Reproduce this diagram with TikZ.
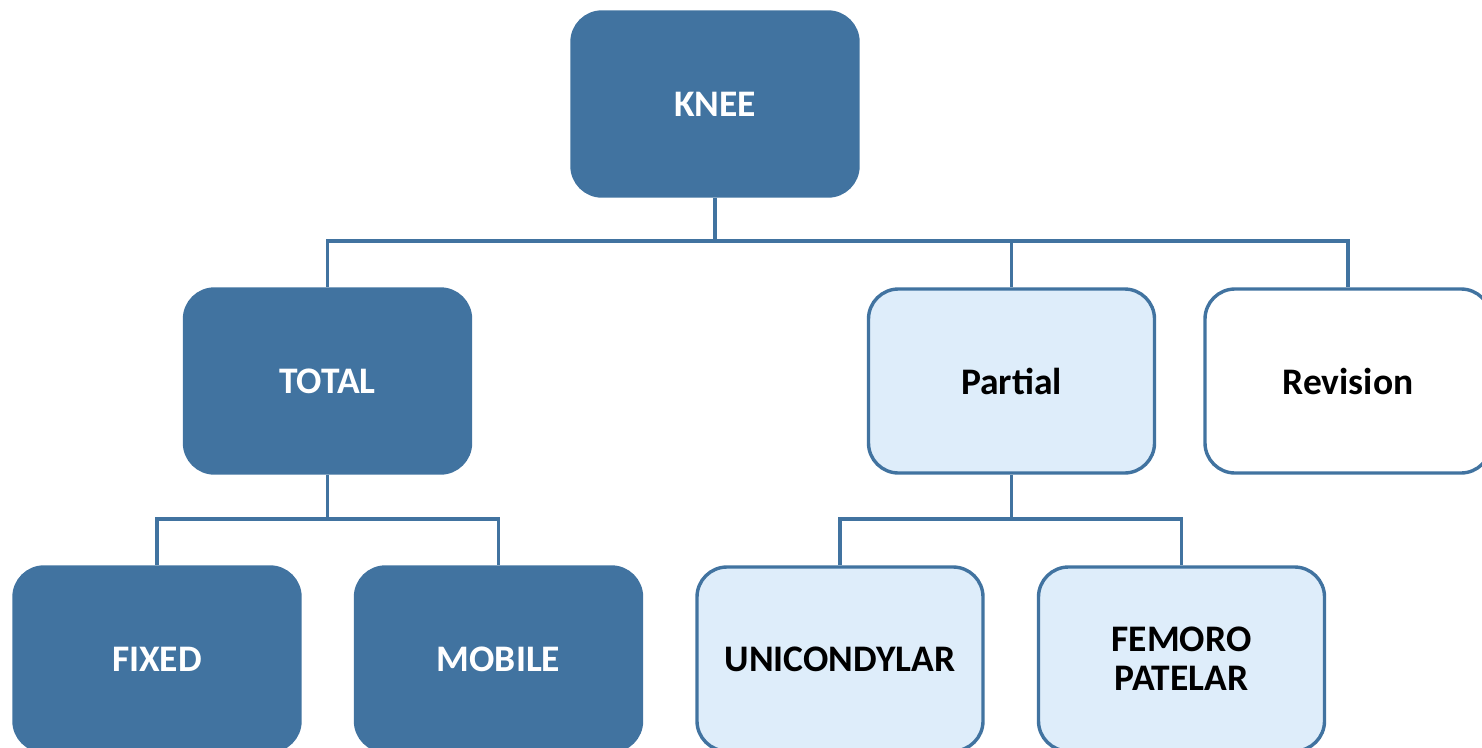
\documentclass[tikz,border=0pt]{standalone}
\usepackage{fontspec}
\setmainfont{Carlito}
\begin{document}
\begin{tikzpicture}[x=1pt,y=-1pt,
  box/.style={rounded corners=30pt, minimum width=286pt, minimum height=184pt,
    inner sep=0pt, line width=3.4pt, align=center,
    font=\fontsize{37.5}{39}\selectfont\bfseries},
  darkbox/.style={box, fill=nodeblue, draw=nodeblue, text=white},
  lightbox/.style={box, fill=paleblue, draw=nodeblue, text=black},
  whitebox/.style={box, fill=white, draw=nodeblue, text=black},
  link/.style={draw=nodeblue, line width=3.6pt}]
\definecolor{nodeblue}{RGB}{65,115,160}
\definecolor{paleblue}{RGB}{222,237,250}
\useasboundingbox (0,0) rectangle (1482,747);
\begin{scope}
\clip (0,0) rectangle (1482,747);
% root
\node[darkbox] (knee) at (715,104) {KNEE};
% second level
\node[darkbox] (total) at (327.5,381) {TOTAL};
\node[lightbox] (partial) at (1011.5,381) {Partial};
\node[whitebox] (revision) at (1348,381) {Revision};
% third level
\node[darkbox] (fixed) at (157,659) {FIXED};
\node[darkbox] (mobile) at (498.5,659) {MOBILE};
\node[lightbox] (uni) at (840,659) {UNICONDYLAR};
\node[lightbox] (femoro) at (1181.5,659) {FEMORO\\PATELAR};
% bus lines
\coordinate (bus1) at (715,241);
\coordinate (bus2) at (327.5,519);
\coordinate (bus3) at (1011.5,519);
\draw[link] (knee.south) -- (bus1);
\draw[link] (bus1) -| (total.north);
\draw[link] (bus1) -| (partial.north);
\draw[link] (bus1) -| (revision.north);
\draw[link] (total.south) -- (bus2);
\draw[link] (bus2) -| (fixed.north);
\draw[link] (bus2) -| (mobile.north);
\draw[link] (partial.south) -- (bus3);
\draw[link] (bus3) -| (uni.north);
\draw[link] (bus3) -| (femoro.north);
\end{scope}
\end{tikzpicture}
\end{document}
